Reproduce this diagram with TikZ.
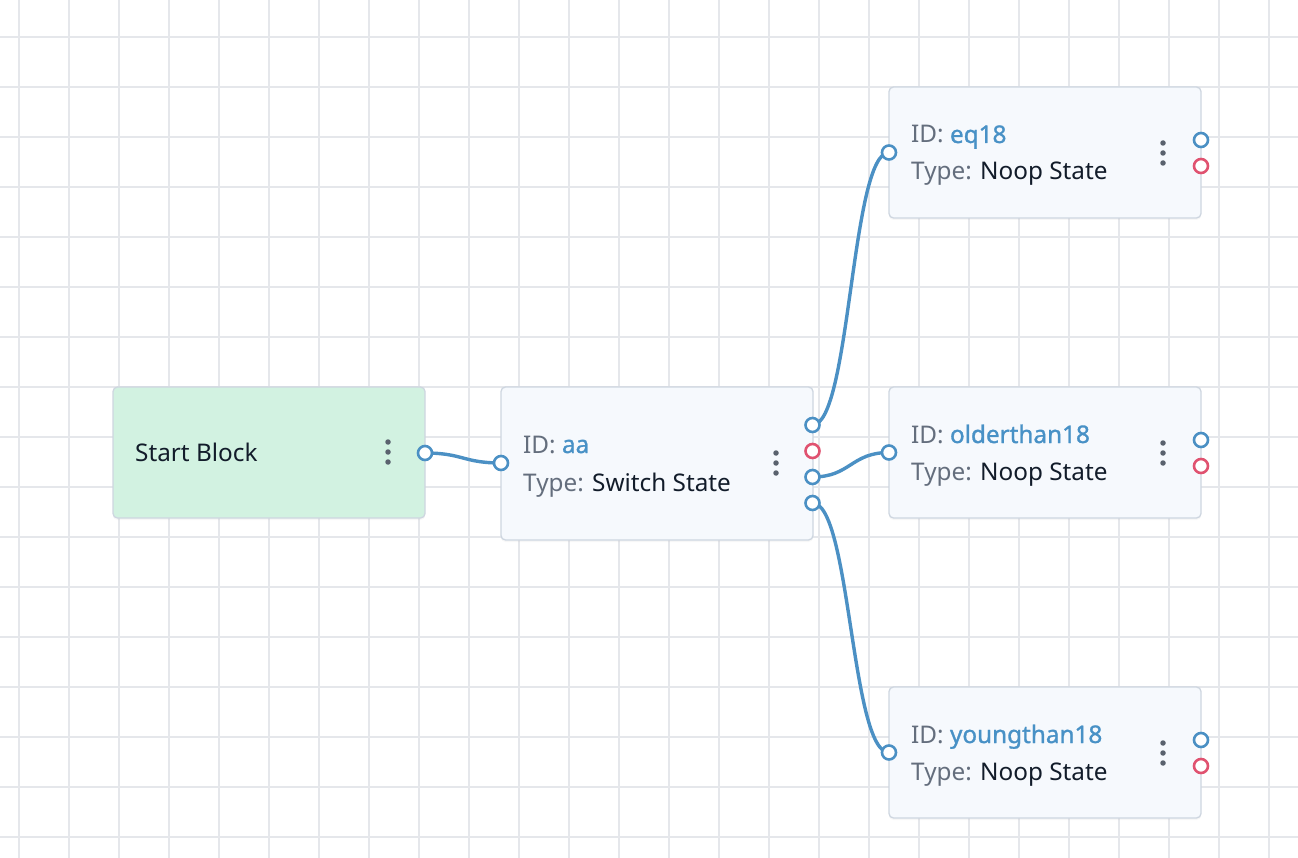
\documentclass[tikz,border=0pt]{standalone}
\usepackage{fontspec}
\setmainfont{Noto Sans}
\newfontfamily\idfont[FakeBold=1.2]{Noto Sans}
\usetikzlibrary{shadows}
\pgfdeclarelayer{gridlayer}
\pgfdeclarelayer{connlayer}
\pgfsetlayers{gridlayer,connlayer,main}
\definecolor{gridc}{RGB}{229,231,235}
\definecolor{boxborder}{RGB}{206,214,224}
\definecolor{boxfill}{RGB}{246,249,253}
\definecolor{startfill}{RGB}{210,242,225}
\definecolor{portblue}{RGB}{75,144,196}
\definecolor{portred}{RGB}{224,82,112}
\definecolor{dotc}{RGB}{90,98,110}
\definecolor{lblgray}{RGB}{100,110,125}
\definecolor{txtdark}{RGB}{18,28,42}
\definecolor{idblue}{RGB}{72,145,198}
\begin{document}
\begin{tikzpicture}[x=1pt,y=-1pt,
  gridline/.style={draw=gridc, line width=1.8pt},
  box/.style={draw=boxborder, line width=1.3pt, rounded corners=4.5pt, fill=boxfill,
     minimum width=312pt, minimum height=131pt, inner sep=0pt,
     drop shadow={opacity=0.06, shadow xshift=0pt, shadow yshift=-2pt}},
  startbox/.style={box, fill=startfill},
  switchbox/.style={box, minimum height=153pt},
  portb/.style={circle, draw=portblue, fill=white, line width=2.6pt, minimum size=14pt, inner sep=0pt},
  portr/.style={portb, draw=portred},
  conn/.style={draw=portblue, line width=3.4pt},
  dotn/.style={circle, fill=dotc, minimum size=5.5pt, inner sep=0pt},
  txt/.style={anchor=base west, inner sep=0pt, font=\fontsize{24.3}{29}\selectfont, text=txtdark},
]
\useasboundingbox (0,0) rectangle (1298,858);
% grid
\begin{pgfonlayer}{gridlayer}
\fill[white] (0,0) rectangle (1298,858);
\foreach \gx in {19,69,...,1298} \draw[gridline] (\gx,0) -- (\gx,858);
\foreach \gy in {37,87,...,858} \draw[gridline] (0,\gy) -- (1298,\gy);
\end{pgfonlayer}

% boxes
\node[startbox] (start) at (269,452.5) {};
\node[switchbox] (sw) at (657,463.5) {};
\node[box] (eq) at (1045,152.5) {};
\node[box] (old) at (1045,452.5) {};
\node[box] (young) at (1045,752.5) {};

% texts
\node[txt] (starttxt) at (135,461) {Start Block};
\node[txt] (swid) at (523,453) {\textcolor{lblgray}{ID:} \textcolor{idblue}{\idfont aa}};
\node[txt] (swtype) at (523,491) {\textcolor{lblgray}{Type:} Switch State};
\node[txt] (eqid) at (911,143) {\textcolor{lblgray}{ID:} \textcolor{idblue}{\idfont eq18}};
\node[txt] (eqtype) at (911,180) {\textcolor{lblgray}{Type:} Noop State};
\node[txt] (oldid) at (911,443) {\textcolor{lblgray}{ID:} \textcolor{idblue}{\idfont olderthan18}};
\node[txt] (oldtype) at (911,480) {\textcolor{lblgray}{Type:} Noop State};
\node[txt] (youngid) at (911,743) {\textcolor{lblgray}{ID:} \textcolor{idblue}{\idfont youngthan18}};
\node[txt] (youngtype) at (911,780) {\textcolor{lblgray}{Type:} Noop State};

% menu dots
\foreach \nm/\dx/\dy in {start/388/452, sw/776/463, eq/1163/153, old/1163/453, young/1163/753}{
  \node[dotn] (\nm-d1) at (\dx,\dy-10) {};
  \node[dotn] (\nm-d2) at (\dx,\dy) {};
  \node[dotn] (\nm-d3) at (\dx,\dy+10) {};
}

% ports
\node[portb] (start-out) at (425,453) {};
\node[portb] (sw-in) at (501,463) {};
\node[portb] (sw-o1) at (812.5,425) {};
\node[portr] (sw-o2) at (812.5,451) {};
\node[portb] (sw-o3) at (812.5,477) {};
\node[portb] (sw-o4) at (812.5,503) {};
\foreach \nm/\cy in {eq/152.5, old/452.5, young/752.5}{
  \node[portb] (\nm-in) at (889,\cy) {};
  \node[portb] (\nm-o1) at (1201,\cy-12.5) {};
  \node[portr] (\nm-o2) at (1201,\cy+13.5) {};
}

% connectors
\begin{pgfonlayer}{connlayer}
\draw[conn] (start-out.center) .. controls +(38,0) and +(-38,0) .. (sw-in.center);
\draw[conn] (sw-o1.center) .. controls +(38,0) and +(-38,0) .. (eq-in.center);
\draw[conn] (sw-o3.center) .. controls +(38,0) and +(-38,0) .. (old-in.center);
\draw[conn] (sw-o4.center) .. controls +(38,0) and +(-38,0) .. (young-in.center);
\end{pgfonlayer}
\end{tikzpicture}
\end{document}
